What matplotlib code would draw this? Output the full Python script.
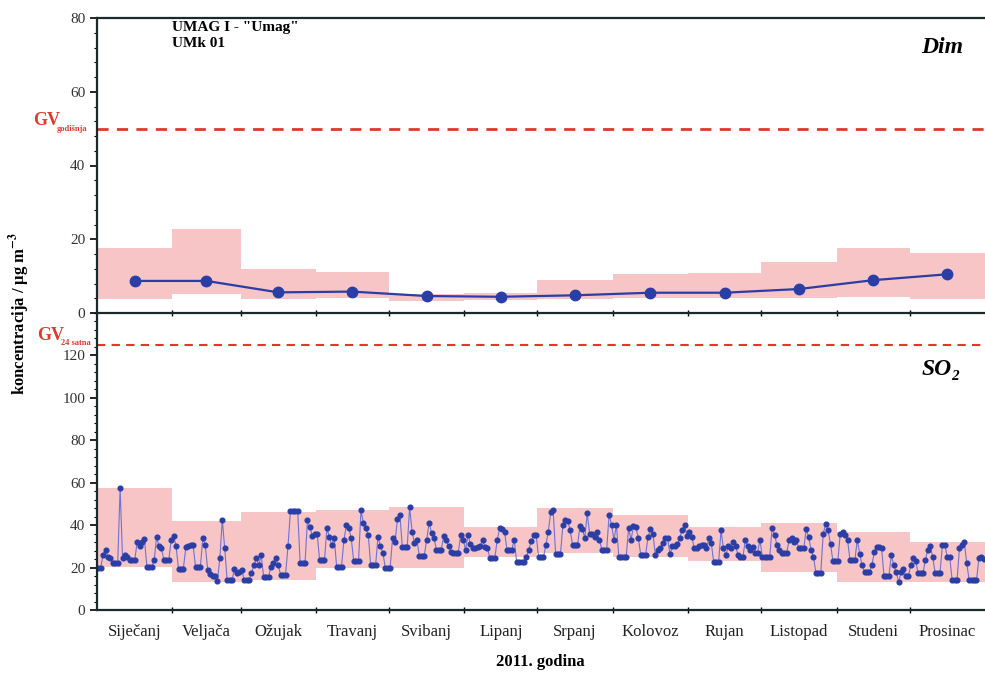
import numpy as np
import matplotlib
matplotlib.use('Agg')
import matplotlib.pyplot as plt
from matplotlib.ticker import MultipleLocator, FixedLocator

plt.rcParams['font.family'] = ['Liberation Serif', 'DejaVu Serif']
plt.rcParams['mathtext.fontset'] = 'stix'

months = ['Siječanj', 'Veljača', 'Ožujak', 'Travanj', 'Svibanj', 'Lipanj',
          'Srpanj', 'Kolovoz', 'Rujan', 'Listopad', 'Studeni', 'Prosinac']
month_days = [31, 28, 31, 30, 31, 30, 31, 31, 30, 31, 30, 31]

# Dim - monthly mean, min, max
dim_mean = [8.7, 8.7, 5.6, 5.8, 4.6, 4.4, 4.8, 5.5, 5.5, 6.5, 8.9, 10.5]
dim_min = [3.8, 5.1, 3.8, 4.0, 3.3, 3.5, 3.8, 4.0, 4.0, 4.0, 4.4, 3.8]
dim_max = [17.6, 22.8, 11.9, 11.1, 5.1, 5.3, 9.0, 10.5, 10.8, 13.8, 17.6, 16.2]

# SO2 - monthly min, max
so2_min = [20.5, 13, 14, 20, 20, 25, 27, 25, 23, 18, 13, 13]
so2_max = [57.5, 42, 46, 47, 48.5, 39, 48, 45, 39, 41, 37, 32]

# SO2 - daily values
so2_jan = [20, 20, 26, 28.5, 25, 24.5, 22, 22, 22, 57.5, 24.5, 26, 25, 23.5, 23.5, 23.5,
           32, 30, 32, 33.5, 20.5, 20.5, 20.5, 23.5, 34.5, 30, 29, 23.5, 23.5, 23.5, 33]
so2_feb = [35, 30, 19.5, 19.5, 19.5, 29.5, 30, 30.5, 30.5, 20.5, 20.5, 20.5, 34, 30.5,
           19, 17, 16, 16, 13.5, 24.5, 42.5, 29, 14, 14, 14, 19.5, 17.5, 18]
so2_mar = [19, 14, 14, 14, 17.5, 21, 24.5, 21, 26, 15.5, 15.5, 15.5, 20.5, 22, 24.5, 21,
           16.5, 16.5, 16.5, 30, 46.5, 46.5, 46.5, 46.5, 22, 22, 22, 42.5, 39, 35, 36]
so2_apr = [36, 23.5, 23.5, 23.5, 38.5, 34.5, 30.5, 34, 20.5, 20.5, 20.5, 33, 40, 38.5, 34,
           23, 23, 23, 47, 41, 38.5, 35.5, 21, 21, 21, 34.5, 30, 27, 20, 20]
so2_may = [20, 34, 32, 43, 45, 29.5, 29.5, 29.5, 48.5, 37, 31.5, 33, 25.5, 25.5, 25.5, 33,
           41, 36.5, 34, 28.5, 28.5, 28.5, 35, 33, 30, 27.5, 27, 27, 27, 35.5, 33]
so2_jun = [28.5, 35.5, 31, 29, 29, 29.5, 30, 33, 29.5, 29, 24.5, 24.5, 24.5, 33, 38.5, 38,
           37, 28.5, 28.5, 28.5, 33, 22.5, 22.5, 22.5, 22.5, 25, 28.5, 32.5, 35.5, 35.5]
so2_jul = [25, 25, 25, 30.5, 37, 46, 47, 26.5, 26.5, 26.5, 40, 42.5, 42, 37.5, 30.5, 30.5,
           30.5, 39.5, 38, 34, 45.5, 36, 36, 34.5, 37, 33, 28.5, 28.5, 28.5, 45, 40]
so2_aug = [33, 40, 25, 25, 25, 25, 38.5, 33, 39.5, 39, 34, 26, 26, 26, 34.5, 38, 36, 26,
           28.5, 29, 31.5, 34, 34, 26.5, 30, 30, 31, 34, 37.5, 40, 35]
so2_sep = [37, 34.5, 29, 29, 30, 30.5, 30.5, 29, 34, 31.5, 22.5, 22.5, 22.5, 37.5, 29, 26,
           30, 29, 32, 30, 26, 25, 25, 33, 30, 28.5, 29.5, 27, 27, 33]
so2_oct = [25, 25, 25, 25, 38.5, 35.5, 30.5, 28.5, 27, 27, 27, 33, 34, 32, 33, 29, 29, 29,
           38, 34.5, 28.5, 25, 17.5, 17.5, 17.5, 36, 40.5, 37.5, 31, 23, 23]
so2_nov = [23, 36, 37, 35.5, 33, 23.5, 23.5, 23.5, 33, 26.5, 21, 18, 18, 18, 21, 27.5,
           29.5, 29.5, 29, 16, 16, 16, 26, 21, 18, 13, 18, 19.5, 16, 16]
so2_dec = [21, 24.5, 23, 17.5, 17.5, 17.5, 23.5, 28.5, 30, 25, 17.5, 17.5, 17.5, 30.5, 30.5,
           25, 25, 14, 14, 14, 29, 30.5, 32, 22, 14, 14, 14, 14, 24.5, 25, 24]

gv_dim = 50
gv_so2 = 125

so2_daily = (so2_jan + so2_feb + so2_mar + so2_apr + so2_may + so2_jun +
             so2_jul + so2_aug + so2_sep + so2_oct + so2_nov + so2_dec)
bounds = np.concatenate([[0], np.cumsum(month_days)])
mids = (bounds[:-1] + bounds[1:]) / 2.0
days = np.arange(len(so2_daily)) + 0.5

pink = '#f7c5c5'
blue = '#2a3ea6'
red = '#e0392b'

fig = plt.figure(figsize=(9.85, 6.73), dpi=100)
W, H = 985.0, 673.0
ax1 = fig.add_axes([97 / W, 1 - 313 / H, 1 - 97 / W, (313 - 18) / H])
ax2 = fig.add_axes([97 / W, 1 - 610 / H, 1 - 97 / W, (610 - 313) / H])

# top panel - Dim
ax1.fill_between(bounds, dim_min + [dim_min[-1]], dim_max + [dim_max[-1]],
                 step='post', color=pink, lw=0)
ax1.plot(mids, dim_mean, '-o', color=blue, lw=1.6, ms=7.5)
ax1.axhline(gv_dim, color=red, ls=(0, (4, 3)), lw=2)
ax1.set_ylim(0, 80)
ax1.yaxis.set_major_locator(MultipleLocator(20))
ax1.yaxis.set_minor_locator(MultipleLocator(4))

# bottom panel - SO2
ax2.fill_between(bounds, so2_min + [so2_min[-1]], so2_max + [so2_max[-1]],
                 step='post', color=pink, lw=0)
ax2.plot(days, so2_daily, '-', color='#6f72d6', lw=0.8)
ax2.plot(days, so2_daily, 'o', color=blue, ms=3.4)
ax2.axhline(gv_so2, color=red, ls=(0, (4, 3)), lw=1.5)
ax2.set_ylim(0, 140)
ax2.yaxis.set_major_locator(FixedLocator([0, 20, 40, 60, 80, 100, 120]))
ax2.yaxis.set_minor_locator(MultipleLocator(4))

for ax in (ax1, ax2):
    ax.set_xlim(0, 365)
    ax.xaxis.set_major_locator(FixedLocator(bounds[1:-1]))
    ax.xaxis.set_minor_locator(FixedLocator(mids))
    ax.spines['right'].set_visible(False)
    for s in ('left', 'bottom', 'top'):
        ax.spines[s].set_linewidth(1.6)
        ax.spines[s].set_color('#1a2a2a')
    ax.tick_params(axis='y', which='major', direction='out', length=5, width=1.2,
                   labelsize=11, labelcolor='#333333')
    ax.tick_params(axis='y', which='minor', direction='out', length=2.5, width=0.8)
    ax.tick_params(axis='x', which='major', direction='inout', length=5, width=1,
                   labelbottom=False)
    ax.tick_params(axis='x', which='minor', length=0)
    ax.set_facecolor('none')

ax1.tick_params(axis='x', which='minor', labelbottom=False)
ax2.spines['top'].set_visible(False)
ax2.set_xticks(mids, months, minor=True)
ax2.tick_params(axis='x', which='minor', labelsize=12, pad=10, labelcolor='#222222')

ax1.text(0.085, 0.99, 'UMAG I - "Umag"\nUMk 01', transform=ax1.transAxes,
         ha='left', va='top', fontsize=11, fontweight='bold', linespacing=1.3)
ax1.text(0.975, 0.90, 'Dim', transform=ax1.transAxes, ha='right', va='center',
         fontsize=17, fontweight='bold', style='italic')
ax2.text(0.962, 0.81, 'SO', transform=ax2.transAxes, ha='right', va='center',
         fontsize=17, fontweight='bold', style='italic')
ax2.text(0.962, 0.785, '2', transform=ax2.transAxes, ha='left', va='center',
         fontsize=11, fontweight='bold', style='italic')

# GV labels
fig.text(33 / W, 1 - 129 / H, 'GV', color=red, fontsize=13, fontweight='bold',
         ha='left', va='bottom')
fig.text(57 / W, 1 - 133 / H, 'godišnja', color=red, fontsize=6, fontweight='bold',
         ha='left', va='bottom')
fig.text(37 / W, 1 - 344 / H, 'GV', color=red, fontsize=13, fontweight='bold',
         ha='left', va='bottom')
fig.text(61 / W, 1 - 347 / H, '24 satna', color=red, fontsize=6, fontweight='bold',
         ha='left', va='bottom')

fig.text(20 / W, 1 - 313 / H, r'koncentracija / µg m$^{\mathbf{-3}}$', rotation=90,
         ha='center', va='center', fontsize=12, fontweight='bold')
fig.text(540 / W, 1 - 662 / H, '2011. godina', ha='center', va='center',
         fontsize=12, fontweight='bold')

fig.savefig('out.png', dpi=100)
